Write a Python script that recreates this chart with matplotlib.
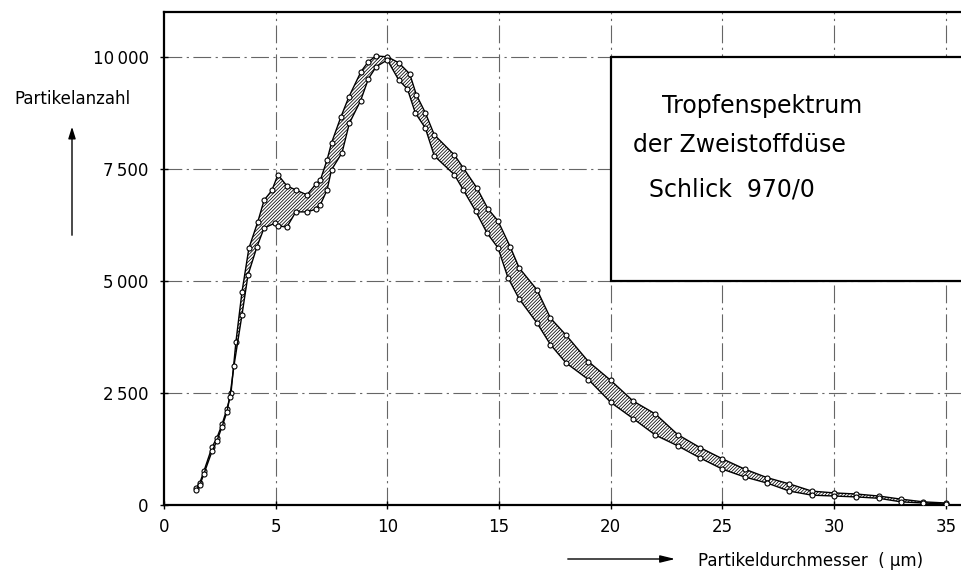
import numpy as np
import matplotlib.pyplot as plt
from matplotlib.patches import Rectangle, FancyArrowPatch

plt.rcParams['font.family'] = ['DejaVu Sans']
plt.rcParams['hatch.linewidth'] = 0.55

# Obere Grenzkurve (Partikelanzahl über Durchmesser in µm)
d_oben = [1.43, 1.61, 1.79, 2.15, 2.37, 2.6, 2.82, 3.0, 3.22, 3.49, 3.8, 4.2, 4.48, 4.83,
          5.1, 5.5, 5.9, 6.4, 6.8, 7.0, 7.3, 7.5, 7.92, 8.28, 8.82, 9.13, 9.49, 10.0, 10.5,
          11.0, 11.3, 11.7, 12.1, 13.0, 13.4, 14.0, 14.5, 14.95, 15.5, 15.9, 16.7, 17.3,
          18, 19, 20, 21, 22, 23, 24, 25, 26, 27, 28, 29, 30, 31, 32, 33, 34, 35]
n_oben = [380, 500, 760, 1290, 1500, 1800, 2150, 2500, 3640, 4750, 5730, 6320, 6800, 7020,
          7370, 7120, 7030, 6920, 7160, 7250, 7700, 8080, 8660, 9110, 9670, 9880, 10020, 10000, 9870,
          9620, 9150, 8750, 8260, 7810, 7520, 7080, 6610, 6340, 5760, 5290, 4800, 4170,
          3790, 3200, 2780, 2320, 2030, 1570, 1280, 1030, 800, 610, 470, 310, 270, 245, 200, 130, 70, 45]

# Untere Grenzkurve
d_unten = [1.43, 1.61, 1.79, 2.15, 2.37, 2.6, 2.82, 2.95, 3.13, 3.49, 3.76, 4.16, 4.48, 4.97,
           5.1, 5.5, 5.9, 6.4, 6.8, 7.0, 7.3, 7.5, 7.97, 8.3, 8.8, 9.15, 9.5, 10.0, 10.5,
           10.9, 11.25, 11.7, 12.1, 13.0, 13.4, 13.95, 14.46, 14.95, 15.4, 15.9, 16.7, 17.3,
           18, 19, 20, 21, 22, 23, 24, 25, 26, 27, 28, 29, 30, 31, 32, 33, 34, 35]
n_unten = [330, 450, 700, 1200, 1430, 1750, 2080, 2420, 3100, 4240, 5130, 5760, 6180, 6290,
           6230, 6200, 6540, 6540, 6600, 6700, 7030, 7480, 7860, 8520, 9020, 9510, 9780, 9930, 9490,
           9280, 8750, 8410, 7790, 7370, 7030, 6560, 6070, 5740, 5070, 4600, 4060, 3580,
           3170, 2800, 2290, 1930, 1560, 1320, 1050, 800, 625, 490, 310, 220, 200, 180, 150, 70, 45, 20]

x_ticks = [0, 5, 10, 15, 20, 25, 30, 35]
y_ticks = [0, 2500, 5000, 7500, 10000]
y_labels = ['0', '2\u2009500', '5\u2009000', '7\u2009500', '10\u2009000']
titel = ['Tropfenspektrum', 'der Zweistoffdüse', 'Schlick  970/0']

fig = plt.figure(figsize=(9.61, 5.72), dpi=100)
ax = fig.add_axes([164 / 961, 1 - 505 / 572, 1 - 164 / 961, (505 - 12) / 572])
ax.set_xlim(0, 35.68)
ax.set_ylim(0, 11000)

# Gitter strichpunktiert
for x in x_ticks[1:]:
    ax.axvline(x, color='0.4', lw=0.8, dashes=(16, 4, 2, 4), zorder=1)
for y in y_ticks[1:]:
    ax.axhline(y, color='0.4', lw=0.8, dashes=(16, 4, 2, 4), zorder=1)

# schraffierter Streubereich zwischen den Kurven
px = np.concatenate([d_oben, d_unten[::-1]])
py = np.concatenate([n_oben, n_unten[::-1]])
ax.fill(px, py, facecolor='white', edgecolor='black', hatch='/' * 10, linewidth=0, zorder=2)

for d, n in [(d_oben, n_oben), (d_unten, n_unten)]:
    ax.plot(d, n, color='black', lw=1.0, marker='o', ms=3.6, mfc='white', mec='black',
            mew=0.8, zorder=3)

# Textkasten
ax.add_patch(Rectangle((20, 5000), 20, 5000, facecolor='white', edgecolor='black',
                       lw=1.6, zorder=4, clip_on=True))
ax.text(22.3, 8750, titel[0], fontsize=17, va='baseline', zorder=5)
ax.text(21.0, 7880, titel[1], fontsize=17, va='baseline', zorder=5)
ax.text(21.7, 6880, titel[2], fontsize=17, va='baseline', zorder=5)

ax.set_xticks(x_ticks)
ax.set_xticklabels([str(v) for v in x_ticks], fontsize=12)
ax.set_yticks(y_ticks)
ax.set_yticklabels(y_labels, fontsize=12)
ax.tick_params(axis='both', direction='inout', length=6, width=1, color='black', pad=6)
ax.tick_params(axis='y', pad=8)

for s in ['left', 'bottom', 'top']:
    ax.spines[s].set_linewidth(1.6)
ax.spines['right'].set_visible(False)

# Achsbeschriftungen mit Pfeilen
fig.text(72 / 961, 1 - 104 / 572, 'Partikelanzahl', fontsize=12, ha='center', va='baseline')
fig.patches.append(FancyArrowPatch(
    (72 / 961, 1 - 238 / 572), (72 / 961, 1 - 124 / 572), transform=fig.transFigure,
    arrowstyle='-|>,head_length=7,head_width=2.2', color='black', lw=1.0))
fig.text(698 / 961, 1 - 566 / 572, 'Partikeldurchmesser  ( µm)', fontsize=12, ha='left',
         va='baseline')
fig.patches.append(FancyArrowPatch(
    (565 / 961, 1 - 559 / 572), (678 / 961, 1 - 559 / 572), transform=fig.transFigure,
    arrowstyle='-|>,head_length=9,head_width=2.2', color='black', lw=1.0))

fig.savefig('out.png', dpi=100)
